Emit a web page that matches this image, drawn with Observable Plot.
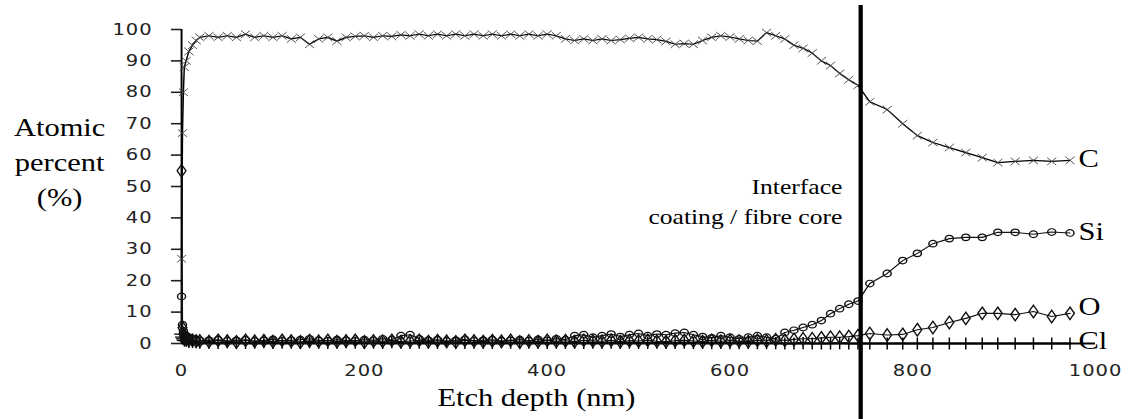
<!DOCTYPE html>
<html>
<head>
<meta charset="utf-8">
<script src="https://cdn.jsdelivr.net/npm/d3@7"></script>
<script src="https://cdn.jsdelivr.net/npm/@observablehq/plot@0.6"></script>
<style>
  html, body { margin: 0; padding: 0; background: white; overflow: hidden; }
  #chart svg g[aria-label$="tick label"] text { letter-spacing: 0.8px; }
</style>
</head>
<body>
<div id="chart"></div>
<script>
// ---- data ----
const depth = [0, 1, 2, 3, 5, 8, 12, 16, 20,
  30, 40, 50, 60, 70, 80, 90, 100, 110, 120, 130, 140, 150, 160, 170, 180, 190, 200, 210, 220, 230, 240,
  250, 260, 270, 280, 290, 300, 310, 320, 330, 340, 350, 360, 370, 380, 390, 400, 410, 420, 430, 440, 450,
  460, 470, 480, 490, 500, 510, 520, 530, 540, 550, 560, 570, 580, 590, 600, 610, 620, 630, 640, 650, 660, 670, 680, 690, 700, 710, 720, 730, 740,
  753, 772, 789, 805, 822, 840, 858, 876, 893, 912, 932, 952, 972];

const carbon = [27, 67, 80, 88, 90, 93, 95, 96.5, 97.5,
  98, 97.5, 98, 97.5, 98.5, 97.5, 98, 97.5, 98, 97, 97.5, 95.3, 97, 97.5, 96.3, 97.5, 97.8, 98, 97.5, 98, 97.8, 98.3,
  98, 98.5, 98, 98.5, 98, 98.5, 98, 98.5, 98, 98.5, 98, 98.5, 98, 98.5, 98, 98.5, 98, 97, 96.5, 97, 96.5,
  97, 96.5, 96.8, 97.2, 97.5, 97, 96.8, 96.2, 95.3, 95.5, 95.3, 96.5, 97.5, 98, 97.6, 97, 96.5, 96.3, 99, 98, 97, 95, 94, 92.5, 90, 88.5, 86, 84, 82.2,
  77, 74.5, 70, 66.2, 64, 62.4, 60.8, 59.2, 57.6, 58, 58.3, 58, 58.3];

const silicon = [15, 6, 4, 3, 2.5, 2, 1.5, 1.2, 1,
  1, 1.2, 0.8, 1, 1.2, 0.8, 1, 1.3, 0.8, 1, 1.2, 1.5, 1, 0.8, 1.2, 1, 0.8, 1.2, 1, 1.5, 1.2, 2.5,
  2.8, 1.5, 1, 1.2, 0.8, 1, 1.3, 0.9, 1, 1.2, 0.8, 1, 1.2, 0.9, 1.3, 1, 1.5, 1.2, 2.5, 2.8, 2,
  2.5, 3, 2.2, 2.8, 3.2, 2.5, 3, 2.8, 3.3, 3.5, 2.8, 2.2, 1.8, 2.5, 2, 1.5, 2, 2.5, 2, 1.5, 3.5, 4.2, 5.1, 6, 7.3, 9.5, 11.1, 12.5, 13.5,
  19.1, 22.3, 26.4, 28.7, 31.8, 33.4, 33.8, 33.8, 35.4, 35.4, 34.8, 35.5, 35.2];

const oxygen = [55, 5, 3, 2, 1.5, 1, 1, 0.8, 0.8,
  0.6, 1, 0.8, 0.5, 1, 0.7, 0.9, 0.6, 1, 0.8, 0.5, 0.9, 0.7, 1, 0.6, 0.8, 1, 0.5, 0.8, 0.7, 1, 0.6,
  0.8, 1, 0.6, 0.9, 0.7, 0.5, 1, 0.8, 0.6, 0.9, 0.7, 1, 0.5, 0.8, 0.6, 1, 0.7, 0.9, 0.6, 1, 0.8,
  0.7, 1, 0.6, 0.9, 0.8, 1, 0.7, 0.6, 0.9, 1, 0.8, 0.6, 1, 0.7, 0.9, 0.8, 0.6, 1, 0.8, 1.2, 1, 1.3, 1.5, 1.5, 1.8, 2, 2, 2.2, 2.5,
  3.2, 2.7, 2.9, 4.4, 5.1, 6.7, 8, 9.6, 9.6, 9.2, 10.2, 8.6, 9.6];

const chlorine = [3, 2, 1.5, 1, 0.8, 0.5, 0.5, 0.4, 0.3,
  0.3, 0.2, 0.4, 0.3, 0.2, 0.3, 0.4, 0.2, 0.3, 0.3, 0.2, 0.4, 0.3, 0.2, 0.3, 0.4, 0.3, 0.2, 0.3, 0.2, 0.4, 0.3,
  0.2, 0.3, 0.3, 0.2, 0.4, 0.3, 0.2, 0.3, 0.3, 0.2, 0.4, 0.3, 0.2, 0.3, 0.3, 0.2, 0.3, 0.2, 0.3, 0.2, 0.3,
  0.2, 0.3, 0.2, 0.3, 0.2, 0.2, 0.3, 0.2, 0.2, 0.3, 0.2, 0.2, 0.1, 0.2, 0.1, 0.1, 0.2, 0.1, 0.1, 0.1, 0, 0, 0.1, 0, 0, 0, 0.1, 0, 0,
  0, 0, 0, 0, 0, 0, 0, 0, 0, 0, 0, 0, 0];

const elements = ["C", "Si", "O", "Cl"];
const xTicks = [0, 200, 400, 600, 800, 1000];
const yTicks = [0, 10, 20, 30, 40, 50, 60, 70, 80, 90, 100];
const interfaceDepth = [743];
const interfaceLabel = "Interface\ncoating / fibre core";
const xLabel = "Etch depth (nm)";
const yLabel = "Atomic\npercent\n(%)";

// ---- build a tidy table ----
const seriesValues = {C: carbon, Si: silicon, O: oxygen, Cl: chlorine};
const rows = elements.flatMap(el => depth.map((d, i) => ({depth: d, pct: seriesValues[el][i], element: el})));
const only = el => rows.filter(r => r.element === el);

const serif = "'Liberation Serif', 'Times New Roman', serif";
const W = 930, H = 419, OUTW = 1134;   // drawn at W, shown stretched to OUTW (the reference is horizontally stretched)

const chart = Plot.plot({
  width: W, height: H,
  marginLeft: 148.4, marginRight: 32, marginTop: 29, marginBottom: 76,
  x: {domain: [0, 1000]},
  y: {domain: [0, 100]},
  style: {fontFamily: "'DejaVu Sans', sans-serif", fontSize: "16px", color: "#222", background: "white", overflow: "visible"},
  marks: [
    Plot.axisX({ticks: xTicks, tickSize: 0, tickPadding: 21, tickFormat: d => String(d), label: null}),
    Plot.axisY({ticks: yTicks, tickSize: 8.2, tickPadding: 15.6, strokeWidth: 1.6, label: null}),
    Plot.ruleX([0], {stroke: "black", strokeWidth: 1.6}),
    Plot.ruleY([0], {stroke: "black", strokeWidth: 2}),
    Plot.lineY(only("Cl"), {x: "depth", y: "pct", stroke: "black", strokeWidth: 1.8}),
    Plot.lineY(only("O"), {x: "depth", y: "pct", stroke: "#111", strokeWidth: 1.1}),
    Plot.lineY(only("Si"), {x: "depth", y: "pct", stroke: "#111", strokeWidth: 1.1}),
    Plot.lineY(only("C"), {x: "depth", y: "pct", stroke: "black", strokeWidth: 1.2}),
    Plot.dot(only("Cl"), {x: "depth", y: "pct", symbol: "plus", r: 4, stroke: "black", strokeWidth: 1.2}),
    Plot.dot(only("O"), {x: "depth", y: "pct", symbol: "diamond", r: 3.8, fill: "none", stroke: "#111", strokeWidth: 1.2}),
    Plot.dot(only("Si"), {x: "depth", y: "pct", symbol: "circle", r: 3.3, fill: "none", stroke: "#111", strokeWidth: 1.2}),
    Plot.dot(only("C"), {x: "depth", y: "pct", symbol: "times", r: 3.5, stroke: "#444", strokeWidth: 0.8}),
    Plot.ruleX(interfaceDepth, {stroke: "black", strokeWidth: 3.5, insetTop: -24, insetBottom: -76}),
    Plot.text(interfaceDepth, {x: d => d, frameAnchor: "top", text: () => interfaceLabel, textAnchor: "end", lineAnchor: "top",
      dx: -15, dy: 143, fontSize: 21, lineHeight: 1.43, fontFamily: serif, fill: "black"}),
    Plot.text([yLabel], {frameAnchor: "top-left", textAnchor: "middle", lineAnchor: "top", dx: -100, dy: 82,
      fontSize: 25, lineHeight: 1.4, fontFamily: serif, fill: "black"}),
    Plot.text([xLabel], {frameAnchor: "bottom-left", textAnchor: "middle", lineAnchor: "top", dx: 291, dy: 45,
      fontSize: 25, fontFamily: serif, fill: "black"}),
    Plot.text(rows.filter(r => r.element === "C" || r.element === "Si"), Plot.selectLast({x: "depth", y: "pct", z: "element", text: "element",
      textAnchor: "start", dx: 7, dy: -1, fontSize: 25, fontFamily: serif, fill: "black"})),
    Plot.text(only("O"), Plot.selectLast({x: "depth", y: "pct", text: "element",
      textAnchor: "start", dx: 7, dy: -6, fontSize: 25, fontFamily: serif, fill: "black"})),
    Plot.text(only("Cl"), Plot.selectLast({x: "depth", y: "pct", text: "element",
      textAnchor: "start", dx: 7, dy: -3, fontSize: 25, fontFamily: serif, fill: "black"}))
  ]
});

chart.setAttribute("width", OUTW);
chart.setAttribute("height", H);
chart.setAttribute("preserveAspectRatio", "none");
chart.style.width = OUTW + "px";
chart.style.height = H + "px";
chart.style.maxWidth = "none";
document.getElementById("chart").appendChild(chart);
</script>
</body>
</html>
